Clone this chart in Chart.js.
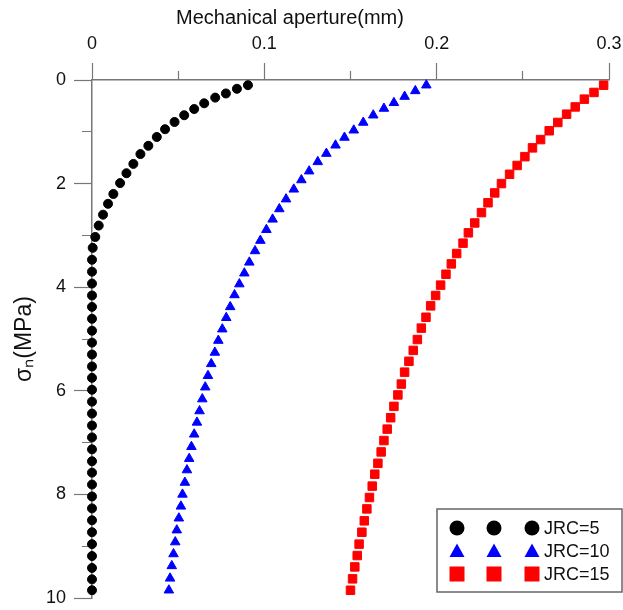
<!DOCTYPE html>
<html>
<head>
<meta charset="utf-8">
<script src="https://cdn.jsdelivr.net/npm/chart.js@4.4.1/dist/chart.umd.min.js"></script>
<style>
  html, body { margin: 0; padding: 0; background: #fff; }
</style>
</head>
<body>
<canvas id="aperture-chart" width="623" height="610"></canvas>
<script>
// Mechanical aperture (mm) against normal stress (MPa)

const seriesLabels = ['JRC=5', 'JRC=10', 'JRC=15'];
const xTitle = 'Mechanical aperture(mm)';
const yTitle = 'σₙ(MPa)';

const jrc5Aperture = [
  0.0905, 0.0841, 0.0777, 0.0715, 0.0651, 0.0593, 0.0535, 0.0479, 0.0424, 0.0376,
  0.0327, 0.0281, 0.0240, 0.0200, 0.0163, 0.0124, 0.0093, 0.0064, 0.0039, 0.0019,
  0.0004, 0, 0, 0, 0, 0, 0, 0, 0, 0,
  0, 0, 0, 0, 0, 0, 0, 0, 0, 0,
  0, 0, 0, 0, 0, 0, 0, 0, 0, 0
];
const jrc5Stress = [
  0.10, 0.17, 0.26, 0.34, 0.45, 0.56, 0.68, 0.81, 0.95, 1.10,
  1.27, 1.43, 1.62, 1.80, 1.99, 2.20, 2.39, 2.60, 2.81, 3.03,
  3.24, 3.47, 3.70, 3.93, 4.16, 4.38, 4.61, 4.84, 5.07, 5.30,
  5.53, 5.75, 5.98, 6.21, 6.44, 6.67, 6.90, 7.13, 7.36, 7.58,
  7.81, 8.04, 8.27, 8.50, 8.73, 8.96, 9.19, 9.42, 9.64, 9.85
];

const jrc10Aperture = [
  0.1940, 0.1876, 0.1814, 0.1752, 0.1694, 0.1632, 0.1574, 0.1519, 0.1465, 0.1413,
  0.1360, 0.1310, 0.1260, 0.1215, 0.1171, 0.1126, 0.1087, 0.1048, 0.1012, 0.0977,
  0.0946, 0.0913, 0.0884, 0.0855, 0.0827, 0.0802, 0.0779, 0.0756, 0.0733, 0.0713,
  0.0692, 0.0673, 0.0657, 0.0640, 0.0624, 0.0609, 0.0593, 0.0577, 0.0564, 0.0551,
  0.0539, 0.0525, 0.0516, 0.0504, 0.0492, 0.0483, 0.0473, 0.0463, 0.0453, 0.0446
];
const jrc10Stress = [
  0.10, 0.21, 0.32, 0.44, 0.55, 0.68, 0.82, 0.97, 1.11, 1.26,
  1.42, 1.58, 1.76, 1.93, 2.11, 2.30, 2.49, 2.69, 2.89, 3.10,
  3.30, 3.52, 3.73, 3.94, 4.15, 4.38, 4.59, 4.81, 5.03, 5.26,
  5.48, 5.71, 5.93, 6.16, 6.39, 6.61, 6.84, 7.08, 7.31, 7.53,
  7.77, 8.00, 8.23, 8.46, 8.69, 8.92, 9.15, 9.38, 9.62, 9.85
];

const jrc15Aperture = [
  0.2969, 0.2913, 0.2857, 0.2804, 0.2754, 0.2703, 0.2653, 0.2603, 0.2556, 0.2512,
  0.2467, 0.2423, 0.2376, 0.2337, 0.2298, 0.2260, 0.2221, 0.2184, 0.2153, 0.2116,
  0.2085, 0.2054, 0.2023, 0.1994, 0.1965, 0.1938, 0.1911, 0.1888, 0.1864, 0.1839,
  0.1814, 0.1795, 0.1775, 0.1752, 0.1733, 0.1713, 0.1694, 0.1678, 0.1659, 0.1641,
  0.1626, 0.1610, 0.1595, 0.1580, 0.1566, 0.1550, 0.1539, 0.1525, 0.1512, 0.1500
];
const jrc15Stress = [
  0.10, 0.24, 0.37, 0.52, 0.66, 0.82, 0.98, 1.15, 1.31, 1.48,
  1.65, 1.82, 2.00, 2.18, 2.37, 2.56, 2.76, 2.95, 3.15, 3.35,
  3.55, 3.75, 3.96, 4.16, 4.36, 4.58, 4.79, 5.01, 5.22, 5.43,
  5.64, 5.87, 6.08, 6.30, 6.52, 6.74, 6.96, 7.18, 7.40, 7.61,
  7.84, 8.06, 8.28, 8.51, 8.73, 8.96, 9.18, 9.40, 9.63, 9.85
];

const xMin = 0, xMax = 0.3, xStep = 0.05;
const yMin = 0, yMax = 10, yStep = 1;

const axisColor = '#777';
const font = "'Liberation Sans', Arial, sans-serif";

function toPoints(xs, ys) {
  return xs.map((x, i) => ({ x: x, y: ys[i] }));
}

const isMinorX = v => Math.round(v / xStep) % 2 !== 0;
const isMinorY = v => Math.round(v / yStep) % 2 !== 0;

// draws one legend marker (three per row, like the original)
function drawMarker(ctx, style, color, x, y) {
  ctx.fillStyle = color;
  ctx.beginPath();
  if (style === 'circle') {
    ctx.arc(x, y, 7.5, 0, Math.PI * 2);
  } else if (style === 'triangle') {
    ctx.moveTo(x, y - 7.5);
    ctx.lineTo(x + 7.5, y + 6);
    ctx.lineTo(x - 7.5, y + 6);
    ctx.closePath();
  } else {
    ctx.rect(x - 7.5, y - 7.5, 15, 15);
  }
  ctx.fill();
}

const decorations = {
  id: 'decorations',
  afterDraw(chart) {
    const ctx = chart.ctx;
    const area = chart.chartArea;
    ctx.save();

    // top axis title
    ctx.fillStyle = '#111';
    ctx.font = '20px ' + font;
    ctx.textAlign = 'center';
    ctx.textBaseline = 'middle';
    ctx.fillText(xTitle, area.left + 198, 18);

    // legend box
    const bx = area.right - 172, by = area.bottom - 89, bw = 185, bh = 83;
    ctx.fillStyle = '#fff';
    ctx.fillRect(bx, by, bw, bh);
    ctx.strokeStyle = '#666';
    ctx.lineWidth = 1.5;
    ctx.strokeRect(bx, by, bw, bh);

    ctx.font = '18px ' + font;
    ctx.textAlign = 'left';
    chart.data.datasets.forEach((ds, i) => {
      const rowY = by + 19 + i * 23;
      [20, 57, 95].forEach(dx => drawMarker(ctx, ds.pointStyle, ds.backgroundColor, bx + dx, rowY));
      ctx.fillStyle = '#111';
      ctx.fillText(ds.label, bx + 107, rowY + 1);
    });
    ctx.restore();
  }
};

const ctx = document.getElementById('aperture-chart').getContext('2d');

new Chart(ctx, {
  type: 'scatter',
  data: {
    datasets: [
      {
        label: seriesLabels[0],
        data: toPoints(jrc5Aperture, jrc5Stress),
        pointStyle: 'circle',
        backgroundColor: '#000',
        borderColor: '#000',
        pointRadius: 4.5,
        pointBorderWidth: 1
      },
      {
        label: seriesLabels[1],
        data: toPoints(jrc10Aperture, jrc10Stress),
        pointStyle: 'triangle',
        backgroundColor: '#0000ff',
        borderColor: '#0000ff',
        pointRadius: 5.5,
        pointBorderWidth: 1
      },
      {
        label: seriesLabels[2],
        data: toPoints(jrc15Aperture, jrc15Stress),
        pointStyle: 'rect',
        backgroundColor: '#ff0000',
        borderColor: '#ff0000',
        pointRadius: 6,
        pointBorderWidth: 1
      }
    ]
  },
  options: {
    responsive: false,
    animation: false,
    clip: false,
    layout: {
      padding: { left: 0, top: 0, right: 14, bottom: 12 }
    },
    scales: {
      x: {
        type: 'linear',
        position: 'top',
        min: xMin,
        max: xMax,
        afterFit: scale => {
          scale.height = 80;
          scale.paddingLeft = 0;
          scale.paddingRight = 0;
        },
        border: { display: true, color: axisColor, width: 1.5 },
        grid: {
          drawOnChartArea: false,
          tickLength: 17,
          tickWidth: 1.2,
          tickColor: axisColor,
          tickBorderDash: c => isMinorX(c.tick.value) ? [0, 8, 9, 40] : []
        },
        ticks: {
          stepSize: xStep,
          autoSkip: false,
          maxRotation: 0,
          padding: 8,
          color: '#111',
          font: { family: font, size: 18 },
          callback: v => isMinorX(v) ? '' : String(Math.round(v * 10) / 10)
        }
      },
      y: {
        type: 'linear',
        reverse: true,
        min: yMin,
        max: yMax,
        afterFit: scale => {
          scale.width = 92;
          scale.paddingTop = 0;
          scale.paddingBottom = 0;
        },
        border: { display: true, color: axisColor, width: 1.5 },
        grid: {
          drawOnChartArea: false,
          tickLength: 18,
          tickWidth: 1.2,
          tickColor: axisColor,
          tickBorderDash: c => isMinorY(c.tick.value) ? [0, 8, 10, 40] : []
        },
        ticks: {
          stepSize: yStep,
          autoSkip: false,
          padding: 8,
          color: '#111',
          font: { family: font, size: 18 },
          callback: v => isMinorY(v) ? '' : String(v)
        },
        title: {
          display: true,
          text: yTitle,
          color: '#111',
          font: { family: font, size: 23 },
          padding: { top: 11, bottom: 0 }
        }
      }
    },
    plugins: {
      legend: { display: false },
      tooltip: { enabled: false }
    }
  },
  plugins: [decorations]
});
</script>
</body>
</html>
